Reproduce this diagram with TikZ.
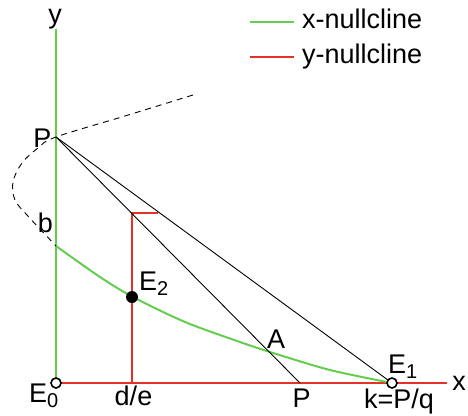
\documentclass[tikz,border=0pt]{standalone}
\usepackage{fontspec}
\setmainfont{Liberation Sans}
\definecolor{ngreen}{RGB}{100,205,80}
\definecolor{nred}{RGB}{228,50,40}
\newcommand\subsc[1]{\raisebox{-5pt}{\fontsize{20}{20}\selectfont #1}}
\begin{document}
\begin{tikzpicture}[x=1pt,y=-1pt,
  lbl/.style={anchor=base, inner sep=0pt, font=\fontsize{27}{31}\selectfont},
  lblw/.style={lbl, anchor=base west},
  gline/.style={ngreen, line width=2pt},
  rline/.style={nred, line width=2pt},
  bline/.style={black, line width=0.9pt},
  dline/.style={black, line width=0.9pt, dash pattern=on 6pt off 5pt},
  eqopen/.style={circle, draw=black, fill=white, line width=1.6pt, minimum size=10pt, inner sep=0pt},
  eqfull/.style={circle, fill=black, minimum size=12pt, inner sep=0pt}]
\useasboundingbox (0,0) rectangle (468,415);
% points
\coordinate (O) at (56,383);
\coordinate (Ytop) at (56,29);
\coordinate (Xend) at (447,383);
\coordinate (P) at (56,137);
\coordinate (Px) at (300,383);
\coordinate (E1c) at (392,383);
\coordinate (B) at (56,246);
\coordinate (E2c) at (132,297);
\coordinate (Rtop) at (132,213);
\coordinate (Rend) at (158,213);
\coordinate (Rbot) at (132,383);
% axes / nullclines
\draw[rline] (O) -- (Xend);
\draw[gline] (O) -- (Ytop);
\draw[gline] plot[smooth] coordinates {(56,246) (100,277) (133,297) (185,322) (240,342) (270,352) (330,370) (392,383)};
\draw[rline] (Rbot) -- (Rtop) -- (Rend);
% lines from P
\draw[bline] (P) -- (Px);
\draw[bline] (P) -- (E1c);
% dashed curve
\draw[dline] plot[smooth, tension=0.6] coordinates {(193,95) (125,116) (56,137) (38,148) (22,163) (13,182) (15,200) (27,215) (40,229) (56,246)};
% equilibria
\node[eqopen] (E0) at (O) {};
\node[eqopen] (E1) at (E1c) {};
\node[eqfull] (E2) at (E2c) {};
% labels
\node[lbl] (ylab) at (55,23) {y};
\node[lbl] (xlab) at (459,390) {x};
\node[lbl] (Plab) at (42.5,147) {P};
\node[lbl] (blab) at (45.5,232) {b};
\node[lblw] (E0lab) at (29,402) {E\subsc{0}};
\node[lblw] (E1lab) at (388,373) {E\subsc{1}};
\node[lblw] (E2lab) at (139,290) {E\subsc{2}};
\node[lbl] (delab) at (133.5,405) {d/e};
\node[lbl] (Pxlab) at (301.5,407) {P};
\node[lbl] (klab) at (399,408) {k=P/q};
\node[lbl] (Alab) at (276,348) {A};
% legend
\coordinate (Lg1) at (250,22);
\coordinate (Lg2) at (294,22);
\coordinate (Lr1) at (250,57);
\coordinate (Lr2) at (294,57);
\draw[gline] (Lg1) -- (Lg2);
\draw[rline] (Lr1) -- (Lr2);
\node[lblw] (leg1) at (302,28) {x-nullcline};
\node[lblw] (leg2) at (302,63) {y-nullcline};
\end{tikzpicture}
\end{document}
